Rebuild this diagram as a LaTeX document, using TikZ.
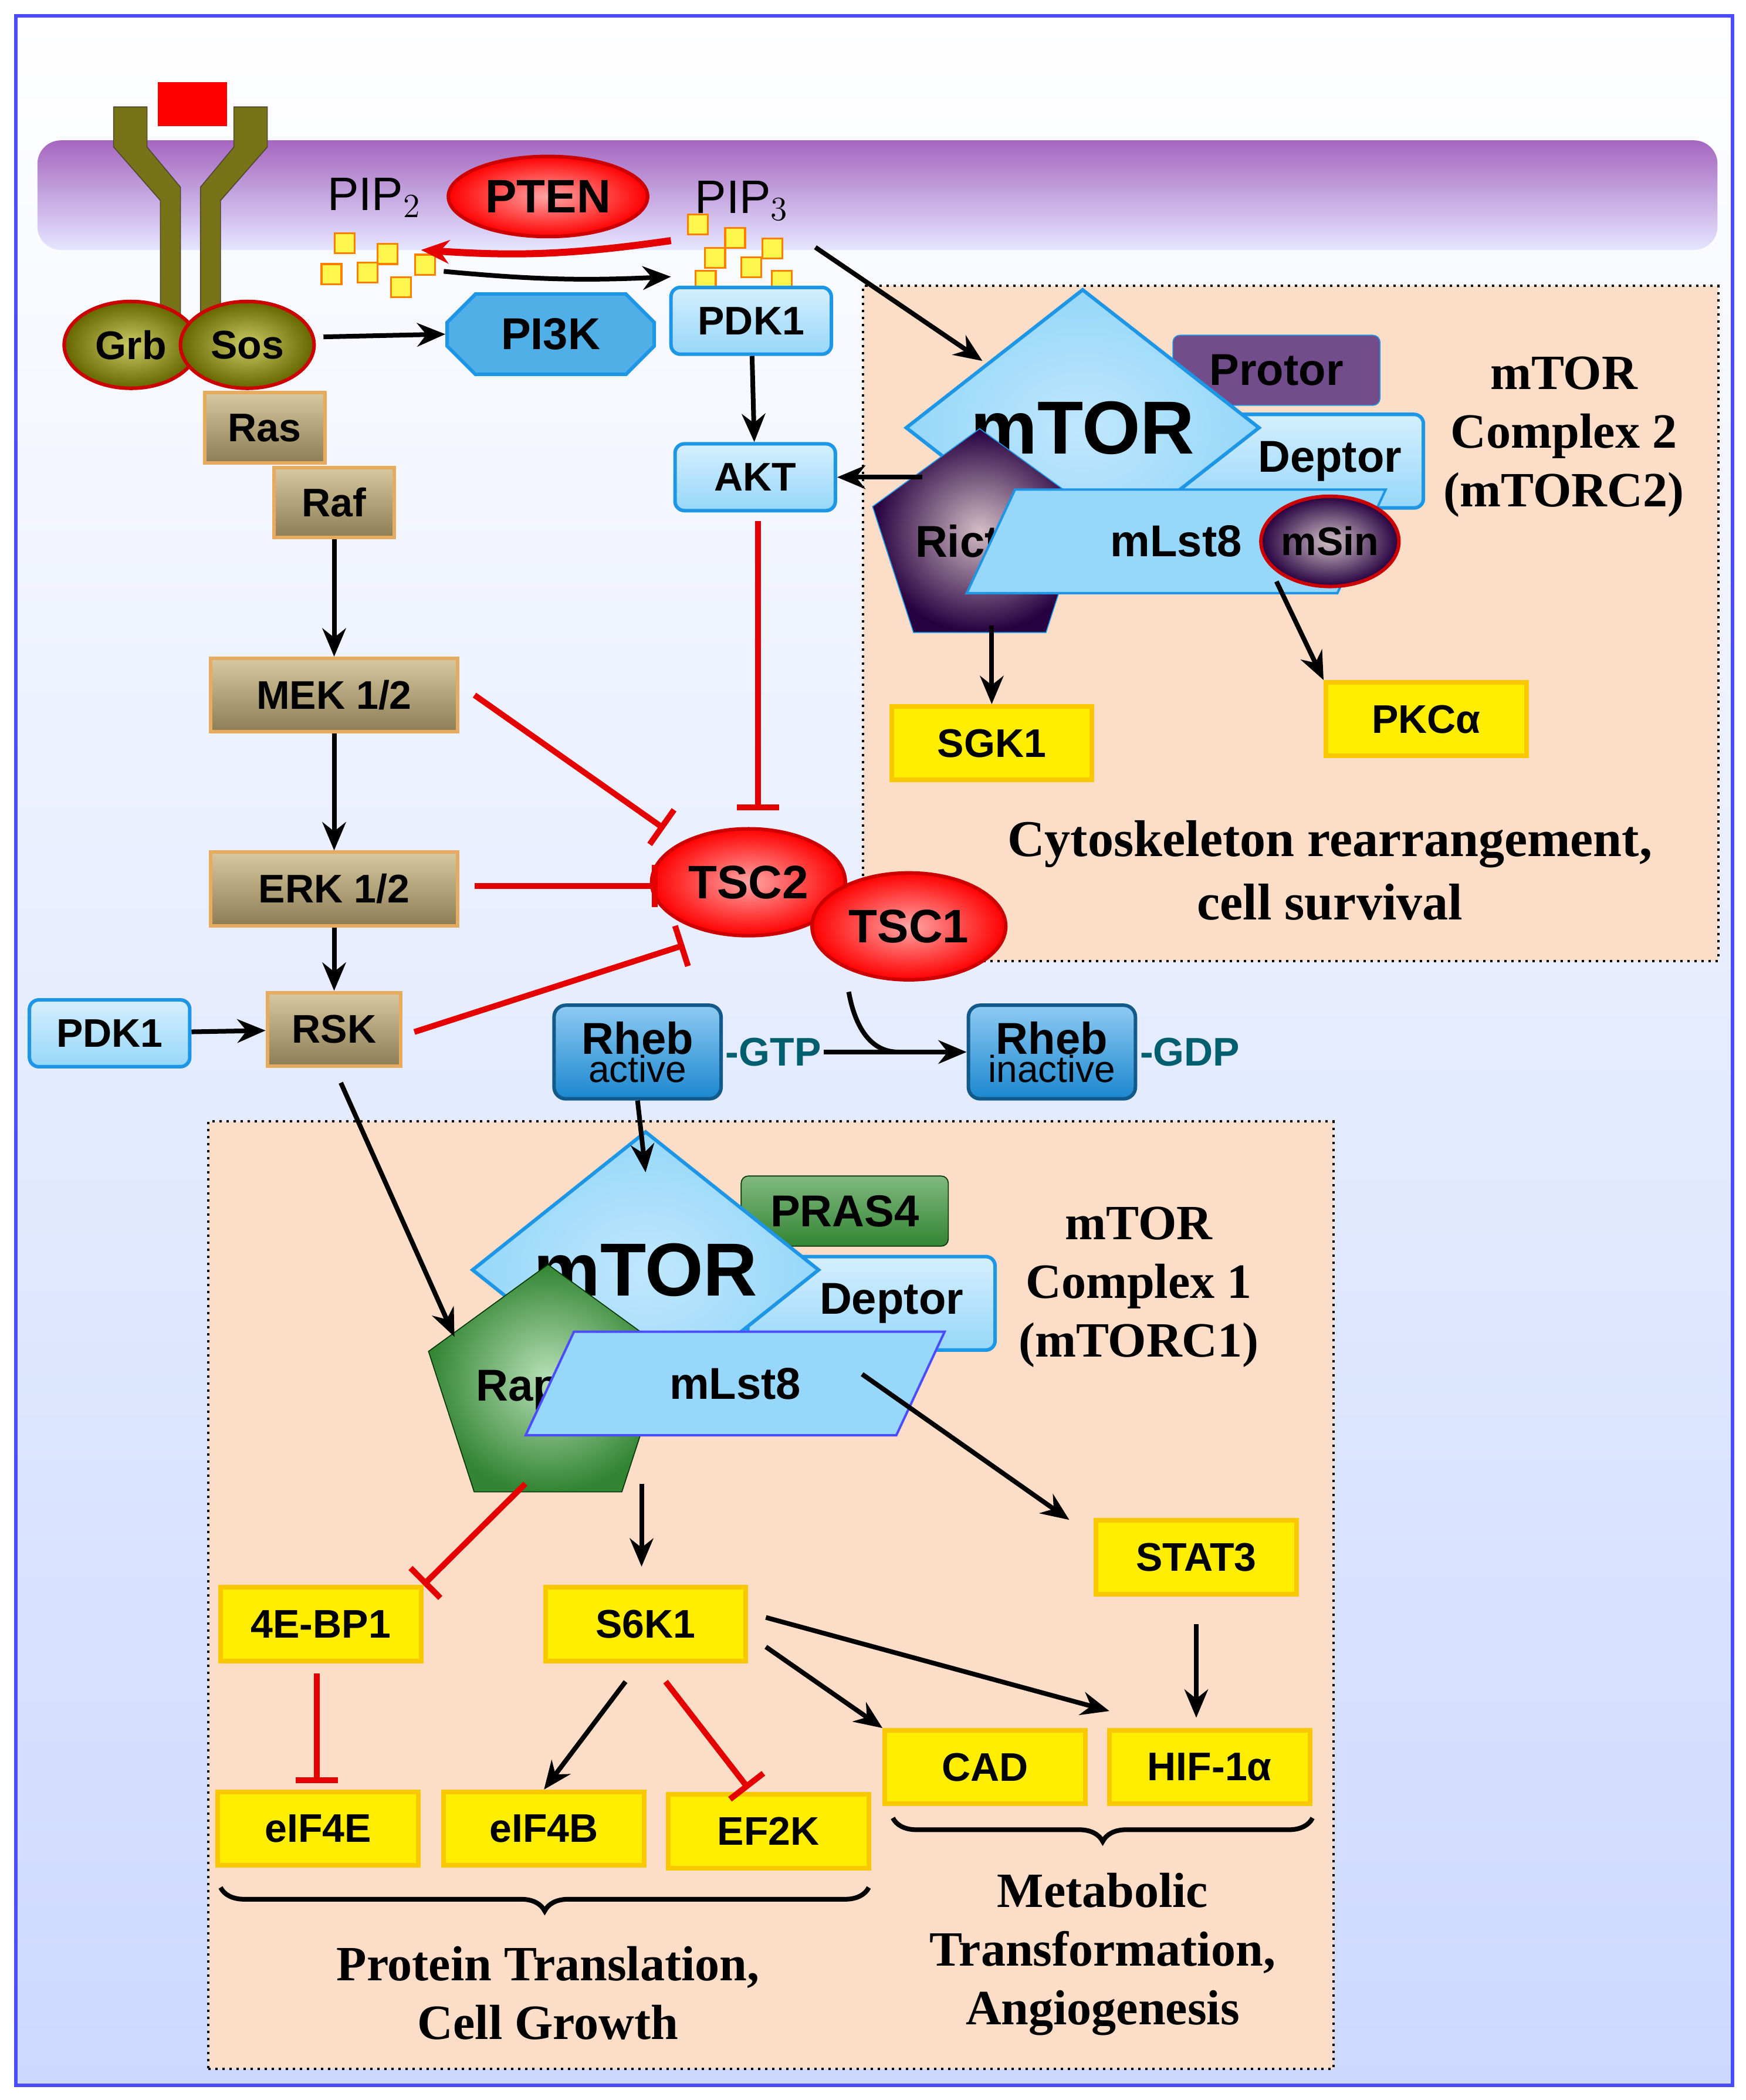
\documentclass[tikz,border=0pt]{standalone}
\usepackage{fontspec}
\setmainfont{Liberation Sans}
\newfontfamily\capf{Liberation Serif}
\usetikzlibrary{shapes.geometric,shapes.misc,arrows.meta,decorations.pathreplacing}
\definecolor{lb}{RGB}{150,215,250}
\definecolor{lbd}{RGB}{30,150,230}
\definecolor{yel}{RGB}{255,238,0}
\definecolor{yeld}{RGB}{250,200,0}
\definecolor{tan1}{RGB}{215,200,160}
\definecolor{tan2}{RGB}{140,125,85}
\definecolor{peach}{RGB}{252,222,200}
\definecolor{teal}{RGB}{0,95,110}
\tikzset{
 lbl/.style={font=\bfseries\fontsize{17}{20}\selectfont},
 blue box/.style={lbl,draw=lbd,line width=1.5pt,rounded corners=4pt,top color=lb!40,bottom color=lb,minimum width=2.4cm,minimum height=1cm},
 yel box/.style={lbl,draw=yeld,line width=2pt,fill=yel,minimum width=3cm,minimum height=1.1cm},
 tan box/.style={lbl,draw=tan1!60!orange,line width=1.5pt,top color=tan1,bottom color=tan2,minimum height=1.1cm},
 red ell/.style={lbl,ellipse,draw=red!80!black,line width=1.5pt,inner color=red!35,outer color=red,},
 act/.style={-{Stealth[length=12pt,width=10pt]},line width=2pt},
 inh/.style={-{Bar[width=18pt,line width=2.5pt]},line width=2.5pt,red!90!black},
 captxt/.style={font=\capf\bfseries\fontsize{21}{25}\selectfont,align=center},
 sq/.style={draw=orange,fill=yellow!70,minimum size=0.3cm,inner sep=0pt,line width=0.8pt},
}
\begin{document}
\begin{tikzpicture}[x=0.02cm,y=-0.02cm]
\useasboundingbox (0,0) rectangle (1306,1571);
\shade[top color=white,bottom color=cyan!25!blue!20] (12,12) rectangle (1296,1560);
\draw[blue!70,line width=1.5pt] (12,12) rectangle (1296,1560);
% membrane
\shade[top color=blue!45!purple!60,bottom color=blue!10,rounded corners=10pt] (28,105) rectangle (1285,187);
% boxes
\node[draw,dotted,line width=1pt,fill=peach,anchor=north west,inner sep=0pt,minimum width=12.8cm,minimum height=10.1cm] (box2) at (645,213) {};
\node[draw,dotted,line width=1pt,fill=peach,anchor=north west,inner sep=0pt,minimum width=16.84cm,minimum height=14.18cm] (box1) at (155,838) {};
% receptor
\fill[olive!80!black,draw=olive!40!black] (85,80) -- (110,80) -- (110,110) -- (135,140) -- (135,250) -- (120,250) -- (120,150) -- (85,110) -- cycle;
\fill[olive!80!black,draw=olive!40!black] (200,80) -- (175,80) -- (175,110) -- (150,140) -- (150,250) -- (165,250) -- (165,150) -- (200,110) -- cycle;
\node[fill=red,minimum width=1.04cm,minimum height=0.66cm,inner sep=0pt] (lig) at (144,78) {};
\node[red ell,inner color=olive!40,outer color=olive!80!black,minimum width=2cm,minimum height=1.3cm] (grb) at (98,258) {Grb};
\node[red ell,inner color=olive!40,outer color=olive!80!black,minimum width=2cm,minimum height=1.3cm] (sos) at (185,258) {Sos};
% PIP
\node[font=\fontsize{20}{24}\selectfont] (pip2) at (280,148) {PIP$_2$};
\node[font=\fontsize{20}{24}\selectfont] (pip3) at (555,150) {PIP$_3$};
\foreach \p [count=\i] in {(258,182),(290,190),(318,198),(248,205),(275,204),(300,215)} \node[sq] (s2\i) at \p {};
\foreach \p [count=\i] in {(522,168),(550,178),(578,186),(535,193),(562,200),(528,210),(585,210)} \node[sq] (s3\i) at \p {};
\node[red ell,minimum width=2.9cm,minimum height=1.2cm,font=\bfseries\fontsize{20}{24}\selectfont] (pten) at (410,147) {PTEN};
\coordinate (r1) at (502,180); \coordinate (r2) at (315,187);
\draw[act,red!90!black,line width=3pt] (r1) to[bend left=6] (r2);
\coordinate (k1) at (332,203); \coordinate (k2) at (502,207);
\draw[act] (k1) to[bend right=4] (k2);
\node[lbl,chamfered rectangle,chamfered rectangle xsep=0.3cm,draw=lbd,line width=1.5pt,fill=cyan!80!blue!70,minimum width=3.1cm,minimum height=1.2cm,font=\bfseries\fontsize{19}{22}\selectfont] (pi3k) at (412,250) {PI3K};
\node[blue box] (pdk1) at (562,240) {PDK1};
\node[blue box] (akt) at (565,357) {AKT};
\coordinate (se) at (242,252);
\draw[act] (se) -- (pi3k.west);
\draw[act] (pdk1) -- (akt);
% mTORC2
\node[lbl,draw=lbd,fill=purple!50!blue!40!gray,minimum width=3.1cm,minimum height=1.05cm,rounded corners=3pt,font=\bfseries\fontsize{19}{22}\selectfont] (protor) at (955,277) {Protor};
\node[blue box,minimum width=3.6cm,minimum height=1.4cm,font=\bfseries\fontsize{19}{22}\selectfont] (deptor2) at (975,345) {\hspace{0.8cm}Deptor};
\node[diamond,draw=lbd,line width=1.5pt,inner color=lb!60,outer color=lb,minimum width=5.3cm,minimum height=2.6cm,inner sep=0pt,font=\bfseries\fontsize{32}{36}\selectfont] (mtor2) at (810,320) {mTOR};
\node[regular polygon,regular polygon sides=5,draw=lbd,inner color=purple!30!gray!40,outer color=purple!50!blue!40!black,minimum size=3.3cm,inner sep=0pt,lbl,font=\bfseries\fontsize{19}{22}\selectfont] (rictor) at (733,405) {Rictor};
\node[trapezium,trapezium left angle=65,trapezium right angle=115,draw=lbd,line width=1pt,fill=lb,minimum width=2.4cm,minimum height=1.55cm,lbl,font=\bfseries\fontsize{19}{22}\selectfont] (mlst82) at (880,405) {mLst8};
\node[red ell,inner color=purple!20!gray!40,outer color=purple!50!blue!40!black,minimum width=1.85cm,minimum height=1.35cm,font=\bfseries\fontsize{17}{20}\selectfont,inner sep=0pt] (msin) at (995,405) {mSin};
\node[captxt] (c2) at (1170,327) {mTOR\\Complex 2\\(mTORC2)};
\coordinate (ak) at (690,357);
\draw[act] (ak) -- (akt.east);
\coordinate (p3) at (610,185); \coordinate (m2) at (735,270);
\draw[act] (p3) -- (m2);
\node[yel box] (sgk1) at (742,556) {SGK1};
\node[yel box] (pkca) at (1067,538) {PKCα};
\coordinate (sg) at (742,468);
\draw[act] (sg) -- (sgk1.north);
\coordinate (pk) at (955,435);
\draw[act] (pk) -- (pkca.north west);
\node[captxt,font=\capf\bfseries\fontsize{22}{27}\selectfont] (cyto) at (995,651) {Cytoskeleton rearrangement,\\cell survival};
% MAPK
\node[tan box,minimum width=1.8cm,minimum height=1.05cm] (ras) at (198,320) {Ras};
\node[tan box,minimum width=1.8cm,minimum height=1.05cm] (raf) at (250,376) {Raf};
\node[tan box,minimum width=3.7cm] (mek) at (250,520) {MEK 1/2};
\node[tan box,minimum width=3.7cm] (erk) at (250,665) {ERK 1/2};
\node[tan box,minimum width=2cm] (rsk) at (250,770) {RSK};
\node[blue box] (pdk1b) at (82,773) {PDK1};
\draw[act] (raf) -- (mek);
\draw[act] (mek) -- (erk);
\draw[act] (erk) -- (rsk);
\draw[act] (pdk1b) -- (rsk);
% TSC
\node[red ell,minimum width=2.9cm,minimum height=1.6cm,font=\bfseries\fontsize{20}{24}\selectfont] (tsc2) at (560,660) {TSC2};
\node[red ell,minimum width=2.9cm,minimum height=1.6cm,font=\bfseries\fontsize{20}{24}\selectfont] (tsc1) at (680,693) {TSC1};
\coordinate (a1) at (567,390); \coordinate (a2) at (567,606);
\draw[inh] (a1) -- (a2);
\coordinate (mk1) at (355,520); \coordinate (mk2) at (497,620);
\draw[inh] (mk1) -- (mk2);
\coordinate (e1) at (355,663); \coordinate (e2) at (492,663);
\draw[inh] (e1) -- (e2);
\coordinate (rk1) at (310,772); \coordinate (rk2) at (512,707);
\draw[inh] (rk1) -- (rk2);
% Rheb
\tikzset{rheb/.style={draw=lbd!60!black,line width=1.5pt,rounded corners=5pt,top color=lbd!50,bottom color=lbd!90!black,minimum width=2.5cm,minimum height=1.4cm,align=center,inner sep=1pt}}
\node[rheb] (rheba) at (477,787) {\bfseries\fontsize{19}{19}\selectfont Rheb\\\fontsize{16}{16}\selectfont active};
\node[rheb] (rhebi) at (787,787) {\bfseries\fontsize{19}{19}\selectfont Rheb\\\fontsize{16}{16}\selectfont inactive};
\node[text=teal,anchor=west,font=\bfseries\fontsize{17}{20}\selectfont,inner sep=1pt] (gtp) at (rheba.east) {-GTP};
\node[text=teal,anchor=west,font=\bfseries\fontsize{17}{20}\selectfont,inner sep=1pt] (gdp) at (rhebi.east) {-GDP};
\coordinate (cv) at (635,742); \coordinate (cv2) at (672,787);
\draw[line width=2pt] (cv) to[out=-80,in=180] (cv2);
\draw[act] (gtp.east) -- (rhebi.west);
% mTORC1
\node[lbl,draw=green!20!black,top color=green!45!black!50,bottom color=green!40!black!80,minimum width=3.1cm,minimum height=1.05cm,rounded corners=3pt,font=\bfseries\fontsize{19}{22}\selectfont] (pras) at (632,906) {PRAS4};
\node[blue box,minimum width=3.7cm,minimum height=1.4cm,font=\bfseries\fontsize{19}{22}\selectfont] (deptor1) at (652,975) {\hspace{0.6cm}Deptor};
\node[diamond,draw=lbd,line width=1.5pt,inner color=lb!60,outer color=lb,minimum width=5.2cm,minimum height=2.6cm,inner sep=0pt,font=\bfseries\fontsize{32}{36}\selectfont] (mtor1) at (483,950) {mTOR};
\node[regular polygon,regular polygon sides=5,draw=green!20!black,inner color=green!40!gray!40,outer color=green!40!black!80,minimum size=3.6cm,inner sep=0pt,lbl,font=\bfseries\fontsize{19}{22}\selectfont] (raptor) at (410,1040) {Raptor};
\node[trapezium,trapezium left angle=65,trapezium right angle=115,draw=blue!70,line width=1pt,fill=lb,minimum width=2.6cm,minimum height=1.55cm,lbl,font=\bfseries\fontsize{19}{22}\selectfont] (mlst81) at (550,1035) {mLst8};
\node[captxt] (c1) at (852,963) {mTOR\\Complex 1\\(mTORC1)};
\coordinate (rb) at (483,877);
\draw[act] (rheba.south) -- (rb);
\coordinate (rs) at (255,810); \coordinate (rs2) at (340,1000);
\draw[act] (rs) -- (rs2);
% targets
\node[yel box] (stat3) at (895,1165) {STAT3};
\node[yel box] (ebp) at (240,1215) {4E-BP1};
\node[yel box] (s6k1) at (483,1215) {S6K1};
\node[yel box] (eif4e) at (238,1368) {eIF4E};
\node[yel box] (eif4b) at (407,1368) {eIF4B};
\node[yel box] (ef2k) at (575,1370) {EF2K};
\node[yel box] (cad) at (737,1322) {CAD};
\node[yel box] (hif) at (905,1322) {HIF-1α};
\coordinate (m1a) at (645,1028); \coordinate (m1a2) at (800,1137);
\draw[act] (m1a) -- (m1a2);
\coordinate (st1) at (895,1215); \coordinate (st2) at (895,1285);
\draw[act] (st1) -- (st2);
\coordinate (m1b) at (393,1110); \draw[inh] (m1b) -- (ebp.north east);
\coordinate (m1c) at (480,1110); \coordinate (m1c2) at (480,1172);
\draw[act] (m1c) -- (m1c2);
\coordinate (eb1) at (237,1252); \coordinate (eb2) at (237,1334);
\draw[inh] (eb1) -- (eb2);
\coordinate (s1) at (468,1258); \draw[act] (s1) -- (eif4b.north);
\coordinate (s2) at (498,1258); \coordinate (s2b) at (560,1338);
\draw[inh] (s2) -- (s2b);
\coordinate (s3) at (573,1232); \draw[act] (s3) -- (cad.north west);
\coordinate (s4) at (573,1210); \coordinate (s4b) at (830,1280);
\draw[act] (s4) -- (s4b);
% braces
\draw[decorate,decoration={brace,mirror,amplitude=10pt},line width=2pt] (165,1412) -- (650,1412);
\draw[decorate,decoration={brace,mirror,amplitude=10pt},line width=2pt] (668,1360) -- (982,1360);
\node[captxt] (pt) at (410,1491) {Protein Translation,\\Cell Growth};
\node[captxt] (mt) at (825,1462) {Metabolic\\Transformation,\\Angiogenesis};
\end{tikzpicture}
\end{document}
